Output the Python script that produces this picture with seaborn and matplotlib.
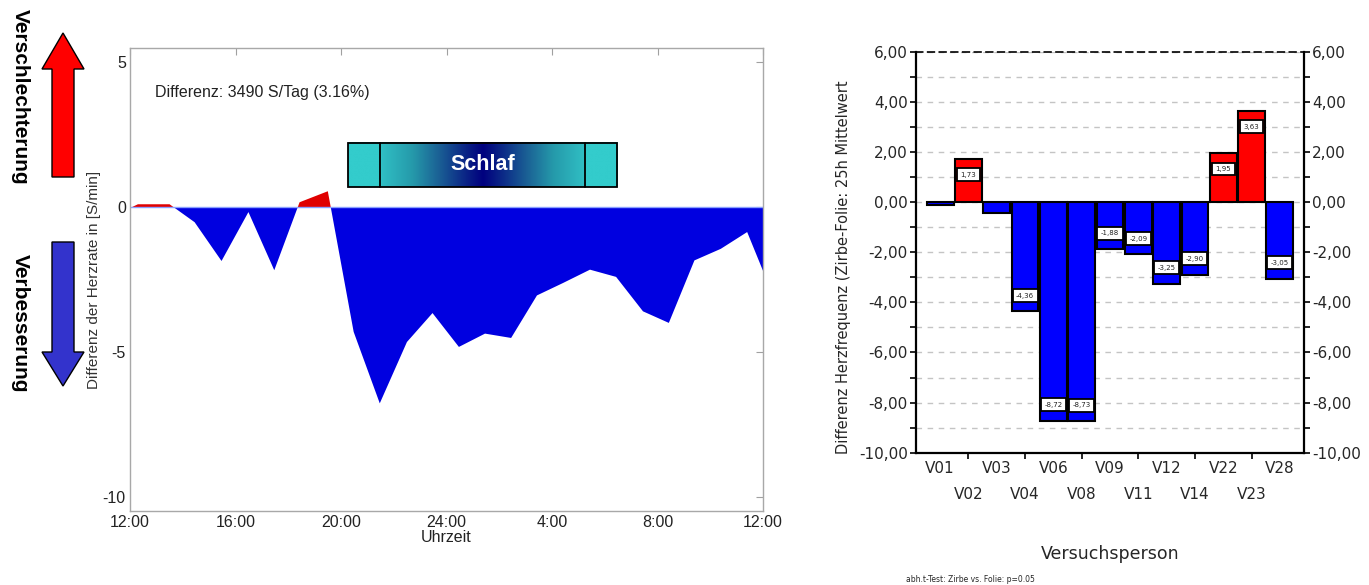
import numpy as np
import matplotlib
matplotlib.use("Agg")
import matplotlib.pyplot as plt
import seaborn as sns
from matplotlib.patches import Polygon, Rectangle
from matplotlib.colors import LinearSegmentedColormap
from matplotlib.ticker import FuncFormatter

# ---------------- data ----------------
# left chart: hours since 12:00 and difference of heart rate [S/min]
hours = [0.0, 0.3, 1.5, 2.45, 3.47, 4.49, 5.47, 6.43, 7.5, 8.48, 9.47, 10.5,
         11.47, 12.47, 13.46, 14.45, 15.43, 16.42, 17.44, 18.43, 19.45,
         20.43, 21.4, 22.4, 23.4, 24.0]
diffs = [-0.03, 0.1, 0.1, -0.52, -1.86, -0.17, -2.18, 0.17, 0.55, -4.31,
         -6.78, -4.66, -3.66, -4.83, -4.37, -4.52, -3.05, -2.62, -2.16,
         -2.41, -3.6, -4.0, -1.84, -1.44, -0.86, -2.2]
time_ticks = [0, 4, 8, 12, 16, 20, 24]
time_labels = ["12:00", "16:00", "20:00", "24:00", "4:00", "8:00", "12:00"]
sleep_start, sleep_end = 8.25, 18.48
sleep_inner = [9.49, 17.25]
summary_text = "Differenz: 3490 S/Tag (3.16%)"

# right chart: subjects and differences
subjects = ["V01", "V02", "V03", "V04", "V06", "V08", "V09", "V11", "V12",
            "V14", "V22", "V23", "V28"]
values = [-0.13, 1.73, -0.42, -4.36, -8.72, -8.73, -1.88, -2.09, -3.25,
          -2.90, 1.95, 3.63, -3.05]

# ---------------- figure ----------------
sns.set_style("white")
plt.rcParams["font.family"] = ["Liberation Sans", "DejaVu Sans"]

W, H = 1369, 585
fig = plt.figure(figsize=(W / 100, H / 100), dpi=100)

# overlay for the arrows / side texts (pixel coordinates)
ov = fig.add_axes([0, 0, 1, 1])
ov.set_xlim(0, W)
ov.set_ylim(H, 0)
ov.axis("off")
ov.add_patch(Polygon([(63, 33), (42, 69), (52, 69), (52, 177), (74, 177),
                      (74, 69), (84, 69)], closed=True, fc="#ff0000",
                     ec="black", lw=1.0))
ov.add_patch(Polygon([(52, 242), (74, 242), (74, 352), (84, 352), (63, 386),
                      (42, 352), (52, 352)], closed=True, fc="#3333cc",
                     ec="black", lw=1.0))
ov.text(20, 97, "Verschlechterung", rotation=-90, ha="center", va="center",
        fontsize=15, fontweight="bold", color="black")
ov.text(20, 323, "Verbesserung", rotation=-90, ha="center", va="center",
        fontsize=15, fontweight="bold", color="black")

# ---------------- left chart ----------------
ax = fig.add_axes([130 / W, 1 - 511 / H, 633 / W, 463 / H])
h = np.array(hours)
d = np.array(diffs)
ax.fill_between(h, d, 0, where=d >= 0, interpolate=True, color="#e00000",
                lw=0)
ax.fill_between(h, d, 0, where=d <= 0, interpolate=True, color="#0000e0",
                lw=0)
ax.axhline(0, color="#8aa0ff", lw=1.0, zorder=1)

# sleep box with gradient
cmap = LinearSegmentedColormap.from_list(
    "sleep",
    [(0.0, "#33cccc"), (0.121, "#33cccc"), (0.122, "#30bfc4"),
     (0.24, "#2599aa"), (0.34, "#1a5e94"), (0.45, "#081c84"),
     (0.5, "#00007f"), (0.55, "#081c84"), (0.66, "#1a5e94"),
     (0.76, "#2599aa"), (0.878, "#30bfc4"), (0.879, "#33cccc"),
     (1.0, "#33cccc")])
grad = np.linspace(0, 1, 512).reshape(1, -1)
ax.imshow(grad, cmap=cmap, extent=[sleep_start, sleep_end, 0.70, 2.23],
          aspect="auto", zorder=3, interpolation="bilinear")
ax.add_patch(Rectangle((sleep_start, 0.70), sleep_end - sleep_start, 1.53,
                       fill=False, ec="black", lw=1.3, zorder=4))
for xi in sleep_inner:
    ax.plot([xi, xi], [0.70, 2.23], color="black", lw=1.3, zorder=4)
ax.text((sleep_start + sleep_end) / 2, 1.465, "Schlaf", ha="center",
        va="center", color="white", fontsize=15.5, fontweight="bold",
        zorder=5)
ax.text(0.95, 3.97, summary_text, ha="left", va="center", fontsize=11.5,
        color="#222222")

ax.set_xlim(0, 24)
ax.set_ylim(-10.5, 5.5)
ax.set_xticks(time_ticks)
ax.set_xticklabels(time_labels)
ax.set_yticks([5, 0, -5, -10])
ax.set_yticklabels(["5", "0", "-5", "-10"])
ax.tick_params(direction="in", length=5, top=True, right=True,
               color="#a0a0a0", labelsize=11.5, labelcolor="#222222", pad=3)
for s in ax.spines.values():
    s.set_color("#a8a8a8")
    s.set_linewidth(1.0)
ax.set_xlabel("Uhrzeit", fontsize=11.5, color="#222222", labelpad=0)
ax.set_ylabel("Differenz der Herzrate in [S/min]", fontsize=11,
              color="#333333")
ax.yaxis.set_label_coords(-0.046, 0.5)

# ---------------- right chart ----------------
ax2 = fig.add_axes([916 / W, 1 - 452.7 / H, 388 / W, 401 / H])
signs = ["pos" if v > 0 else "neg" for v in values]
sns.barplot(x=subjects, y=values, hue=signs,
            palette={"pos": "#ff0000", "neg": "#0000ff"}, dodge=False,
            legend=False, width=0.95, edgecolor="black", linewidth=1.5,
            saturation=1, ax=ax2, zorder=3)
for i, v in enumerate(values):
    if abs(v) > 1:
        ax2.text(i, v - np.sign(v) * 0.63, f"{v:.2f}".replace(".", ","),
                 ha="center", va="center", fontsize=5, family="DejaVu Sans",
                 color="#222222", zorder=5,
                 bbox=dict(boxstyle="square,pad=0.5", fc="white",
                           ec="black", lw=1.3))

ax2.set_xlim(-0.85, 12.85)
ax2.set_ylim(-10, 6)
ax2.set_yticks(np.arange(-10, 7, 2))
ax2.set_yticks(np.arange(-9, 6, 2), minor=True)
ax2.yaxis.set_major_formatter(FuncFormatter(lambda v, p: f"{v:.2f}".replace(".", ",")))
ax2.grid(True, axis="y", which="both", color="#c4c4c4", linestyle=(0, (4, 4)),
         lw=1.0)
ax2.set_axisbelow(True)
ax2.tick_params(axis="y", which="both", direction="out", left=True,
                right=True, labelleft=True, labelright=True, length=4,
                width=1.2, color="black", labelsize=11, pad=2)
for lab in ax2.get_yticklabels():
    lab.set_family("DejaVu Sans")

even = list(range(0, len(subjects), 2))
odd = list(range(1, len(subjects), 2))
ax2.set_xticks(even)
ax2.set_xticklabels([subjects[i] for i in even], family="DejaVu Sans")
ax2.set_xticks(odd, minor=True)
ax2.set_xticklabels([subjects[i] for i in odd], minor=True,
                    family="DejaVu Sans")
ax2.tick_params(axis="x", which="major", length=0, pad=6, labelsize=11)
ax2.tick_params(axis="x", which="minor", bottom=True, direction="out",
                length=4, width=1.2, color="black", pad=21, labelsize=11)

for side in ["left", "right", "bottom"]:
    ax2.spines[side].set_color("black")
    ax2.spines[side].set_linewidth(1.6)
ax2.spines["top"].set_color("black")
ax2.spines["top"].set_linewidth(1.2)
ax2.spines["top"].set_linestyle((0, (4, 3)))

ax2.set_xlabel("Versuchsperson", fontsize=12.5, family="DejaVu Sans",
               labelpad=0)
ax2.xaxis.set_label_coords(0.5, -0.23)
ax2.set_ylabel("Differenz Herzfrequenz (Zirbe-Folie: 25h Mittelwert",
               fontsize=10.5, family="DejaVu Sans")
ax2.yaxis.set_label_coords(-0.168, 0.463)

fig.text(906 / W, 1 - 579 / H, "abh.t-Test: Zirbe vs. Folie: p=0.05",
         fontsize=5.5, family="DejaVu Sans", ha="left", va="center")

fig.savefig("out.png", dpi=100)
